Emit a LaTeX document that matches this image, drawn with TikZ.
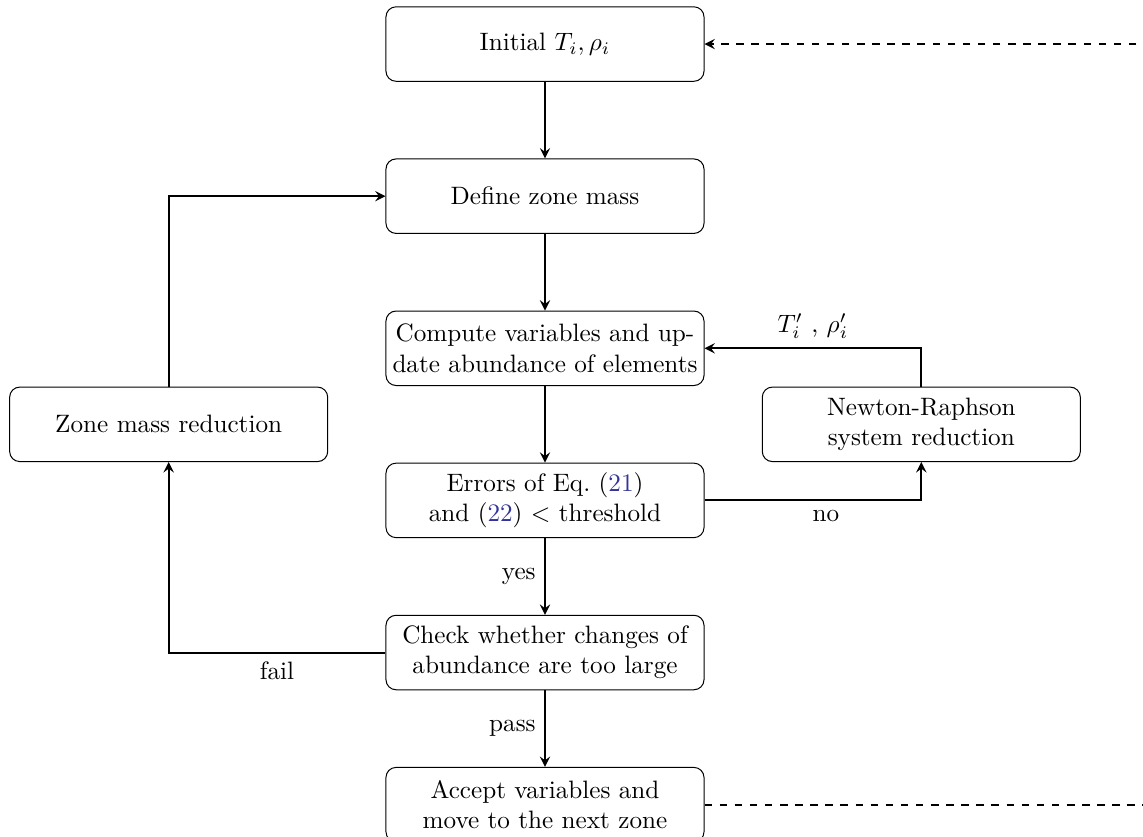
\documentclass[tikz,border=0pt]{standalone}
\usepackage{amsmath,amssymb}
\usepackage{tikz}
\usetikzlibrary{arrows.meta,positioning,calc}
\definecolor{eqlink}{rgb}{0.2,0.2,0.6}

\begin{document}
\begin{tikzpicture}[
    node distance=1.07cm,
    box/.style={draw, rounded corners, text width=4.3cm, inner xsep=2pt, minimum height=1.04cm, align=center},
    flow/.style={draw, thick, -stealth},
    every node/.style={text centered, font=\normalsize}
]
\clip (-7.61,0.615) rectangle (8.35,-11.07);

\node[box] (init) {Initial $T_i, \rho_i$};
\node[box, below=of init] (zonemass) {Define zone mass};
\node[box, below=of zonemass] (compute) {Compute variables and up-\\date abundance of elements};
\node[box, below=of compute] (errors) {Errors of Eq.~(\textcolor{eqlink}{21})\\and (\textcolor{eqlink}{22}) $<$ threshold};
\node[box, below=of errors] (check) {Check whether changes of\\abundance are too large};
\node[box, below=of check] (accept) {Accept variables and\\move to the next zone};

\node[box, right=0.8cm] (newton) at ($(compute.east)!0.5!(errors.east)$) {Newton-Raphson\\system reduction};
\node[box, left=0.8cm] (massred) at ($(compute.west)!0.5!(errors.west)$) {Zone mass reduction};

\coordinate (return) at (9,0);

\draw[flow] (init) -- (zonemass);
\draw[flow] (zonemass) -- (compute);
\draw[flow] (compute) -- (errors);
\draw[flow] (errors) -- node[left] {yes} (check);
\draw[flow] (check) -- node[left] {pass} (accept);
\draw[flow] (errors.east) -| node[pos=0.28, below] {no} (newton.south);
\draw[flow] (newton.north) |- node[pos=0.75, above] {$T_i'$ , $\rho_i'$} (compute.east);
\draw[flow] (check.west) -| node[pos=0.25, below] {fail} (massred.south);
\draw[flow] (massred.north) |- (zonemass.west);
\draw[flow, dashed] (accept.east) -| (return) -- (init.east);

\end{tikzpicture}
\end{document}
